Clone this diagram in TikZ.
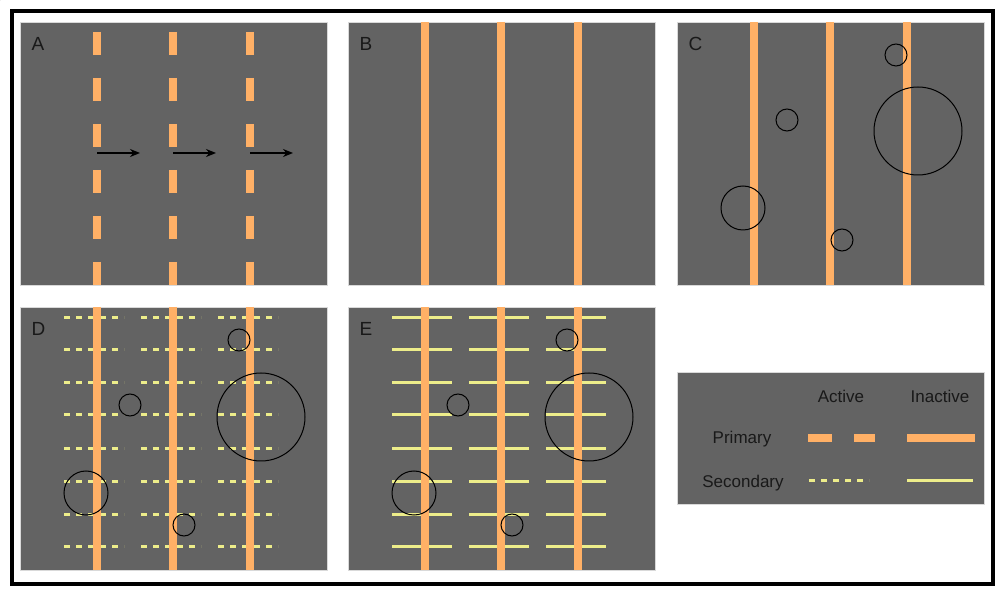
\documentclass[tikz,border=0pt]{standalone}
\usepackage{fontspec}
\setmainfont{Liberation Sans}
\usetikzlibrary{arrows.meta}
\definecolor{pan}{HTML}{636363}
\definecolor{prim}{HTML}{FFB066}
\definecolor{sec}{HTML}{EDED8A}
\tikzset{
  panel/.style={fill=pan,draw=black!15,line width=0.8pt},
  primline/.style={prim,line width=8pt},
  primdash/.style={prim,line width=8pt,dash pattern=on 23pt off 23pt},
  secdash/.style={sec,line width=3pt,dash pattern=on 6pt off 6pt},
  secline/.style={sec,line width=3pt},
  hole/.style={draw=black,line width=1pt},
  lbl/.style={font=\fontsize{19}{19}\selectfont,text=black!90,anchor=west},
  txt/.style={font=\fontsize{17}{17}\selectfont,text=black!90},
  mv/.style={-{Stealth[length=10pt,width=8pt]},line width=1.6pt}
}
\begin{document}
\begin{tikzpicture}[x=1pt,y=-1pt]
\useasboundingbox (0,0) rectangle (1005,593);
\fill[white] (0,0) rectangle (1005,593);
\draw[line width=3.5pt] (12,11) rectangle (993,584);
% panels
\node[panel,minimum width=0,inner sep=0] (pa) at (0,0) {};
\draw[panel] (20,22) rectangle (327,285);
\draw[panel] (348,22) rectangle (655,285);
\draw[panel] (677,22) rectangle (984,285);
\draw[panel] (20,307) rectangle (327,570);
\draw[panel] (348,307) rectangle (655,570);
\draw[panel] (677,372) rectangle (984,504);
% A
\foreach \x in {97,173,250}{
  \draw[primdash] (\x,32) -- (\x,285);
  \coordinate (s\x) at (\x,153);
  \coordinate (e\x) at (\x+43,153);
  \draw[mv] (s\x) -- (e\x);
}
\node[lbl] (la) at (28,44) {A};
% B
\foreach \x in {425,501,578} \draw[primline] (\x,22) -- (\x,285);
\node[lbl] (lb) at (356,44) {B};
% C
\foreach \x in {754,830,907} \draw[primline] (\x,22) -- (\x,285);
\node[lbl] (lc) at (685,44) {C};
\foreach \cx/\cy/\r in {787/120/11,918/131/44,896/55/11,743/208/22,842/240/11}
  \draw[hole] (\cx,\cy) circle (\r);
% D
\foreach \y in {318,350,383,415,449,482,515,547}
  \foreach \g in {64,141,218}
    \draw[secdash] (\g,\y) -- (\g+60,\y);
\foreach \x in {97,173,250} \draw[primline] (\x,307) -- (\x,570);
\node[lbl] (ld) at (28,329) {D};
\foreach \cx/\cy/\r in {130/405/11,261/417/44,239/340/11,86/493/22,184/525/11}
  \draw[hole] (\cx,\cy) circle (\r);
% E
\foreach \y in {318,350,383,415,449,482,515,547}
  \foreach \g in {392,469,546}
    \draw[secline] (\g,\y) -- (\g+60,\y);
\foreach \x in {425,501,578} \draw[primline] (\x,307) -- (\x,570);
\node[lbl] (le) at (356,329) {E};
\foreach \cx/\cy/\r in {458/405/11,589/417/44,567/340/11,414/493/22,512/525/11}
  \draw[hole] (\cx,\cy) circle (\r);
% legend
\node[txt] (act) at (841,396) {Active};
\node[txt] (ina) at (940,396) {Inactive};
\node[txt] (pri) at (742,439) {Primary};
\node[txt] (sco) at (743,483) {Secondary};
\draw[primline] (808,438) -- (832,438);
\draw[primline] (854,438) -- (875,438);
\draw[primline] (907,438) -- (975,438);
\draw[secdash] (809,481) -- (869,481);
\draw[secline] (907,481) -- (973,481);
\end{tikzpicture}
\end{document}
